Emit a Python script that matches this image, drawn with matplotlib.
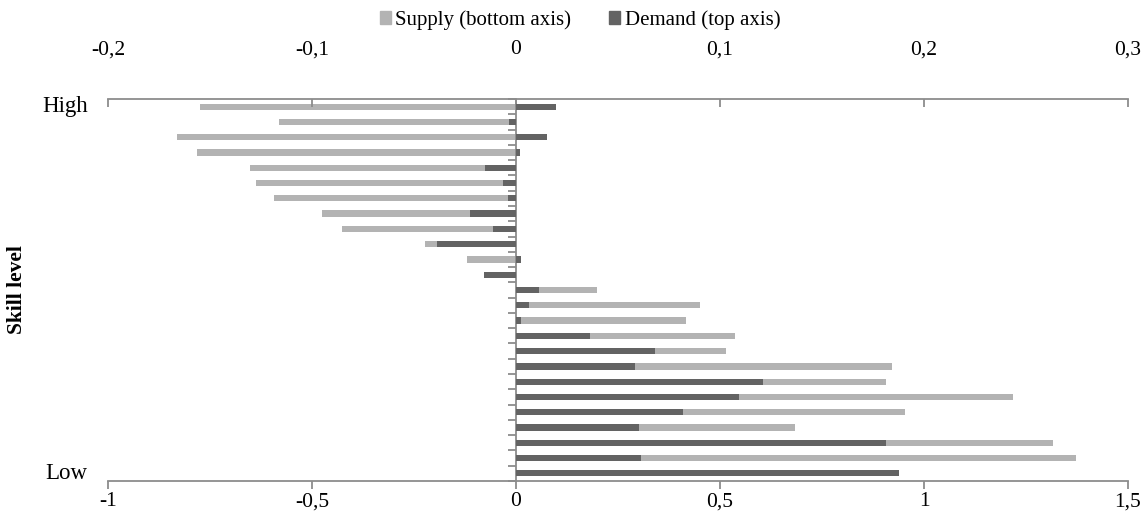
import numpy as np
import matplotlib.pyplot as plt
from matplotlib.patches import Patch

plt.rcParams['font.family'] = ['Liberation Serif', 'DejaVu Serif']

# Rows from High (top) to Low (bottom)
supply = [-0.775, -0.582, -0.832, -0.781, -0.652, -0.638, -0.592, -0.475, -0.426,
          -0.222, -0.121, -0.06, 0.199, 0.452, 0.416, 0.537, 0.515, 0.922, 0.908,
          1.219, 0.954, 0.684, 1.316, 1.373, 0.8]
demand = [0.0196, -0.0034, 0.015, 0.002, -0.0152, -0.0065, -0.004, -0.0224, -0.0114,
          -0.0386, 0.0023, -0.0155, 0.0114, 0.0064, 0.0023, 0.0363, 0.0679, 0.0582,
          0.121, 0.1095, 0.0817, 0.0601, 0.1815, 0.0611, 0.1878]

bottom_ticks = [-1, -0.5, 0, 0.5, 1, 1.5]
bottom_labels = ['-1', '-0,5', '0', '0,5', '1', '1,5']
top_ticks = [-0.2, -0.1, 0, 0.1, 0.2, 0.3]
top_labels = ['-0,2', '-0,1', '0', '0,1', '0,2', '0,3']

supply_col = '#b3b3b3'
demand_col = '#636363'
axis_col = '#8c8c8c'
fs = 15.5

fig = plt.figure(figsize=(11.48, 5.23), dpi=100)
ax = fig.add_axes([108/1148, 1 - 481/523, 1020/1148, 382/523])
ax2 = ax.twiny()

y = np.arange(len(supply))
ax.barh(y, supply, height=0.41, color=supply_col, zorder=2)
ax2.barh(y, demand, height=0.41, color=demand_col, zorder=3)

ax.set_xlim(-1, 1.5)
ax2.set_xlim(-0.2, 0.3)
ax.set_ylim(len(supply) - 0.5, -0.5)

# spines
for a in (ax, ax2):
    for s in a.spines.values():
        s.set_visible(False)
ax.spines['bottom'].set_visible(True)
ax.spines['bottom'].set_color(axis_col)
ax.spines['bottom'].set_linewidth(1.3)
ax.spines['left'].set_visible(True)
ax.spines['left'].set_position(('data', 0))
ax.spines['left'].set_color(axis_col)
ax.spines['left'].set_linewidth(1.3)
ax2.spines['top'].set_visible(True)
ax2.spines['top'].set_color(axis_col)
ax2.spines['top'].set_linewidth(1.3)

ax.set_xticks(bottom_ticks)
ax.set_xticklabels(bottom_labels)
ax.tick_params(axis='x', direction='out', length=6, width=1.3, color=axis_col,
               pad=2, labelsize=fs, labelcolor='black')
ax2.set_xticks(top_ticks)
ax2.set_xticklabels(top_labels)
ax2.tick_params(axis='x', direction='in', length=6, width=1.3, color=axis_col,
                pad=28.5, labelsize=fs, labelcolor='black')

ax.set_yticks(np.arange(len(supply) + 1) - 0.5)
ax.set_yticklabels([])
ax.tick_params(axis='y', direction='out', length=6, width=1.3, color=axis_col)

ax.text(-0.02, 0, 'High', transform=ax.get_yaxis_transform(), ha='right',
        va='center', fontsize=16.5)
ax.text(-0.02, len(supply) - 1, 'Low', transform=ax.get_yaxis_transform(), ha='right',
        va='center', fontsize=16.5)
fig.text(17/1148, 1 - 290/523, 'Skill level', rotation=90, ha='center', va='center',
         fontsize=fs, fontweight='bold')

handles = [Patch(color=supply_col, label='Supply (bottom axis)'),
           Patch(color=demand_col, label='Demand (top axis)')]
fig.legend(handles=handles, loc='center', bbox_to_anchor=(580/1148, 1 - 20/523), ncol=2,
           frameon=False, fontsize=15, handlelength=0.55, handleheight=0.55,
           handletextpad=0.2, columnspacing=1.8)

fig.savefig('out.png', dpi=100)
